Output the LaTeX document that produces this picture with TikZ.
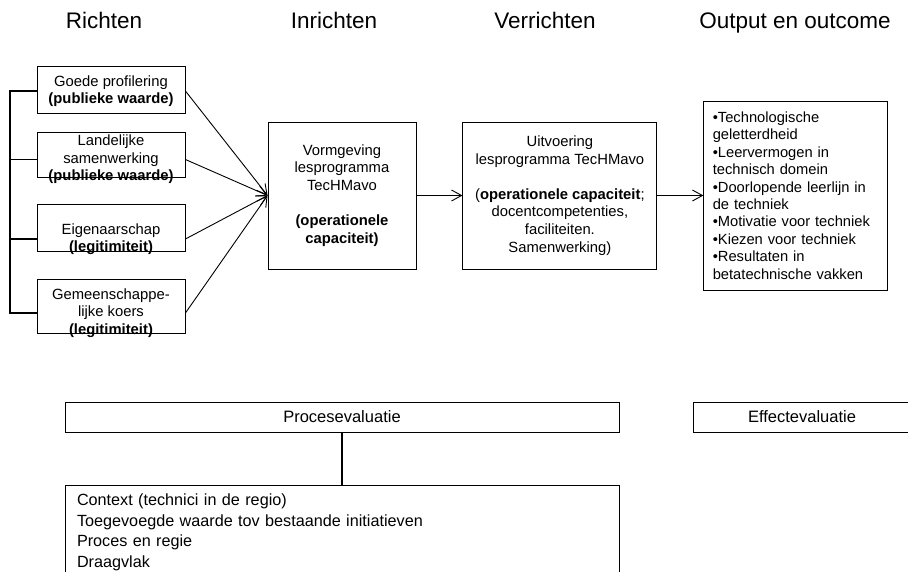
\documentclass[tikz,border=0pt]{standalone}
\usepackage{fontspec}
\setmainfont{Liberation Sans}
\usetikzlibrary{positioning,arrows.meta}

\begin{document}
\begin{tikzpicture}[x=1pt,y=-1pt,
  head/.style={font=\fontsize{22.5}{27}\selectfont,anchor=base},
  lbox/.style={draw,line width=.9pt,minimum width=148pt,inner sep=0pt},
  ltxt/.style={align=center,font=\fontsize{14.8}{17.5}\selectfont},
  box/.style={draw,line width=.9pt,align=center,font=\fontsize{14.8}{17.6}\selectfont,
    minimum height=147pt,inner sep=0pt},
  evalbox/.style={draw,line width=.9pt,minimum height=30pt,inner sep=0pt,
    font=\fontsize{16.5}{20}\selectfont},
  flow/.style={-{Straight Barb[length=10pt,width=11pt]},line width=.9pt},
  rail/.style={line width=1.6pt},
  node distance=46pt]
\useasboundingbox (0,0) rectangle (908,572);
% kolomkoppen
\node[head] (h1) at (104,29) {Richten};
\node[head] (h2) at (334,29) {Inrichten};
\node[head] (h3) at (545,29) {Verrichten};
\node[head] (h4) at (795,29) {Output en outcome};
% richten
\node[lbox,minimum height=47pt,label={[ltxt,name=t1,yshift=-1.5pt]center:Goede profilering\\\textbf{(publieke waarde)}}] (b1) at (111,89.5) {};
\node[lbox,minimum height=45pt,label={[ltxt,name=t2,yshift=-5pt]center:Landelijke\\samenwerking\\\textbf{(publieke waarde)}}] (b2) at (111,154.5) {};
\node[lbox,minimum height=47pt,label={[ltxt,name=t3,yshift=-11.5pt]center:Eigenaarschap\\\textbf{(legitimiteit)}}] (b3) at (111,227.5) {};
\node[lbox,minimum height=54pt,label={[ltxt,name=t4,yshift=-7pt]center:Gemeenschappe-\\lijke koers\\\textbf{(legitimiteit)}}] (b4) at (111,306) {};
\coordinate (spine) at (10,0);
% inrichten, verrichten, output
\node[box,minimum width=148pt] (vorm) at (342,195.5) {Vormgeving\\lesprogramma\\TecHMavo\\[17.6pt]\textbf{(operationele}\\\textbf{capaciteit)}};
\node[box,minimum width=194pt,right=of vorm] (uitv) {Uitvoering\\lesprogramma TecHMavo\\[17.6pt](\textbf{operationele capaciteit};\\docentcompetenties,\\faciliteiten.\\Samenwerking)};
\node[draw,line width=.9pt,text width=166pt,inner xsep=9pt,inner ysep=0pt,minimum height=189pt,
  align=left,font=\fontsize{14.7}{17.4}\selectfont,right=of uitv] (out) {•Technologische\\geletterdheid\\•Leervermogen in\\technisch domein\\•Doorlopende leerlijn in\\de techniek\\•Motivatie voor techniek\\•Kiezen voor techniek\\•Resultaten in\\betatechnische vakken};
% evaluatie
\node[evalbox,minimum width=554pt] (proc) at (342,417) {Procesevaluatie};
\node[evalbox,minimum width=218pt] (effect) at (802,417) {Effectevaluatie};
\node[draw,line width=.9pt,below=53pt of proc,text width=530pt,inner xsep=12pt,inner ysep=8pt,
  align=left,font=\fontsize{16.2}{20.5}\selectfont] (detail) {Context (technici in de regio)\\Toegevoegde waarde tov bestaande initiatieven\\Proces en regie\\Draagvlak};
% verbindingen
\draw[rail] (b1.west |- t1) -- (spine |- t1) -- (spine |- t4) -- (b4.west |- t4);
\draw[rail] (b2.west |- t2) -- (spine |- t2);
\draw[rail] (b3.west |- t3) -- (spine |- t3);
\foreach \i in {1,...,4}
  \draw[flow] (b\i.east |- t\i) -- (vorm.west);
\draw[flow] (vorm) -- (uitv);
\draw[flow] (uitv) -- (out);
\draw[rail] (proc) -- (detail);
\end{tikzpicture}
\end{document}
